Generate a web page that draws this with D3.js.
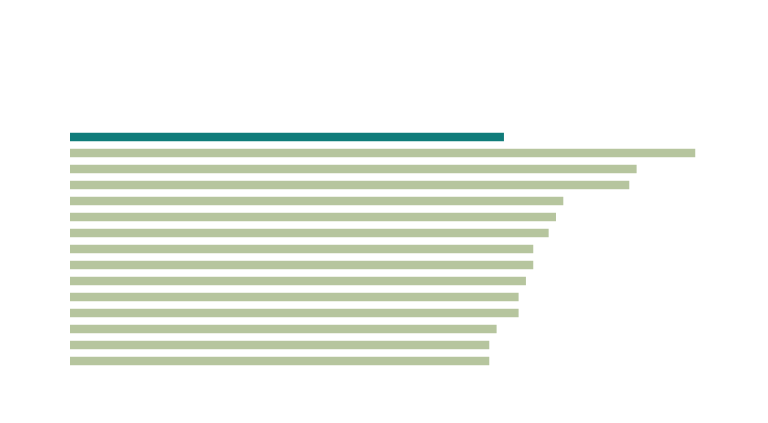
<!DOCTYPE html>
<html>
<head>
<meta charset="utf-8">
<script src="https://cdn.jsdelivr.net/npm/d3@7"></script>
<style>
  html, body { margin: 0; padding: 0; background: #fff; }
  svg { display: block; }
</style>
</head>
<body>
<div id="chart"></div>
<script>
var width = 768;
var height = 423;
var highlightColor = 'rgb(16, 124, 122)';
var barColor = 'rgb(182, 197, 158)';

// one row per bar, the first one is highlighted
var categories = ['A', 'B', 'C', 'D', 'E', 'F', 'G', 'H', 'I', 'J', 'K', 'L', 'M', 'N', 'O'];
var values = [59.2, 85.3, 77.3, 76.3, 67.3, 66.3, 65.3, 63.2, 63.2, 62.2, 61.2, 61.2, 58.2, 57.2, 57.2];
var highlighted = ['A'];

var x = d3.scaleLinear()
    .domain([0, 100])
    .range([70, 803]);

var y = d3.scaleBand()
    .domain(categories)
    .range([129, 369])
    .paddingInner(0.47)
    .paddingOuter(0.235);

var svg = d3.select('#chart')
    .append('svg')
    .attr('width', width)
    .attr('height', height);

svg.selectAll('rect')
    .data(categories)
    .enter().append('rect')
    .attr('x', x(0))
    .attr('y', function(d) { return y(d); })
    .attr('width', function(d, i) { return x(values[i]) - x(0); })
    .attr('height', y.bandwidth())
    .style('fill', function(d) {
        return highlighted.indexOf(d) > -1 ? highlightColor : barColor;
    });
</script>
</body>
</html>
